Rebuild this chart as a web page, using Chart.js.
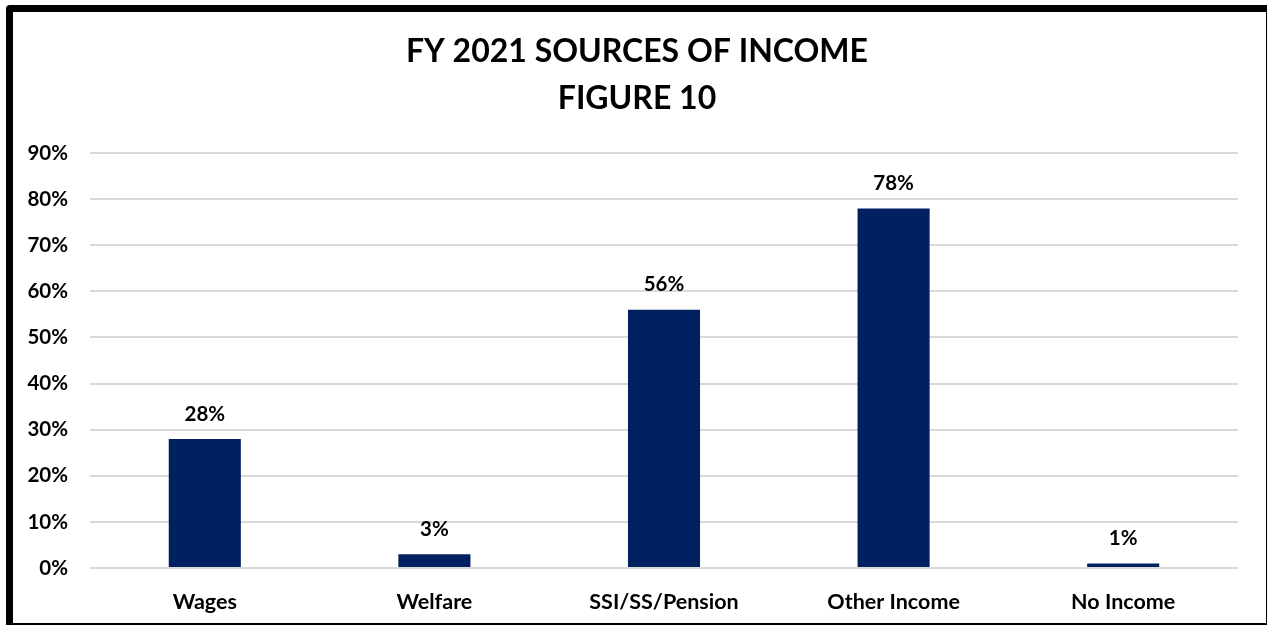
<!DOCTYPE html>
<html>
<head>
<meta charset="utf-8">
<script src="https://cdn.jsdelivr.net/npm/chart.js@4/dist/chart.umd.min.js"></script>
<style>
  html, body { margin: 0; padding: 0; background: #fff; }
  #wrap { position: relative; width: 1267px; height: 628px; overflow: hidden; }
  #frame {
    position: absolute; left: 6px; top: 5px; width: 1253px; height: 611px;
    border-top: 7px solid #000; border-left: 7px solid #000;
    border-right: 3px solid #000; border-bottom: 2px solid #000;
    border-top-left-radius: 4px; pointer-events: none;
  }
  canvas { position: absolute; left: 0; top: 0; }
</style>
</head>
<body>
<div id="wrap">
  <canvas id="incomeChart" width="1267" height="628"></canvas>
  <div id="frame"></div>
</div>
<script>
const categories = ["Wages", "Welfare", "SSI/SS/Pension", "Other Income", "No Income"];
const percentages = [28, 3, 56, 78, 1];
const titleLines = ["FY 2021 SOURCES OF INCOME", "FIGURE 10"];

const FONT = "Lato, 'Open Sans', sans-serif";

// draws the % value above each bar
const valueLabels = {
    id: "valueLabels",
    afterLayout(chart) {
        // center the title inside the framed box, not the whole canvas
        chart.titleBlock.left = 36;
    },
    afterDatasetsDraw(chart) {
        const ctx = chart.ctx;
        const meta = chart.getDatasetMeta(0);
        ctx.save();
        ctx.font = "bold 20.5px " + FONT;
        ctx.fillStyle = "#000";
        ctx.textAlign = "center";
        ctx.textBaseline = "middle";
        meta.data.forEach((bar, i) => {
            ctx.fillText(percentages[i] + "%", bar.x, bar.y - 25);
        });
        ctx.restore();
    }
};

const ctx = document.getElementById("incomeChart").getContext("2d");
new Chart(ctx, {
    type: "bar",
    data: {
        labels: categories,
        datasets: [{
            data: percentages,
            backgroundColor: "#002060",
            barPercentage: 0.314,
            categoryPercentage: 1
        }]
    },
    options: {
        responsive: false,
        animation: false,
        layout: { padding: { left: 0, right: 29, top: 0, bottom: 0 } },
        plugins: {
            legend: { display: false },
            tooltip: { enabled: false },
            title: {
                display: true,
                text: titleLines,
                color: "#000",
                font: { family: FONT, size: 32, weight: "bold", lineHeight: 1.47 },
                padding: { top: 28, bottom: 31 }
            }
        },
        scales: {
            x: {
                grid: { display: false },
                border: { display: false },
                ticks: {
                    color: "#000",
                    font: { family: FONT, size: 21.5, weight: "bold" },
                    padding: 13,
                    maxRotation: 0
                },
                afterFit(scale) { scale.height = 60; }
            },
            y: {
                min: 0,
                max: 90,
                ticks: {
                    stepSize: 10,
                    color: "#000",
                    font: { family: FONT, size: 20.5, weight: "bold" },
                    padding: 22,
                    callback: v => v + "%"
                },
                grid: { color: "#d9d9d9", lineWidth: 2, drawTicks: false },
                border: { display: false },
                afterFit(scale) { scale.width = 90; }
            }
        }
    },
    plugins: [valueLabels]
});
</script>
</body>
</html>
